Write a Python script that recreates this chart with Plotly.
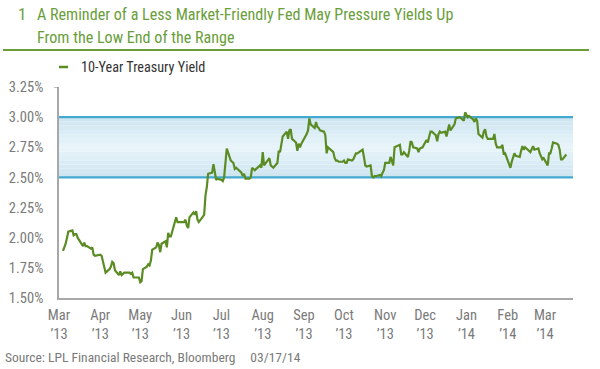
import plotly.graph_objects as go

dates = [
    "2013-03-04","2013-03-05","2013-03-06","2013-03-07","2013-03-08","2013-03-11","2013-03-12","2013-03-13","2013-03-14","2013-03-15",
    "2013-03-18","2013-03-19","2013-03-20","2013-03-21","2013-03-22","2013-03-25","2013-03-26","2013-03-27","2013-03-28",
    "2013-04-01","2013-04-02","2013-04-03","2013-04-04","2013-04-05","2013-04-08","2013-04-09","2013-04-10","2013-04-11","2013-04-12",
    "2013-04-15","2013-04-16","2013-04-17","2013-04-18","2013-04-19","2013-04-22","2013-04-23","2013-04-24","2013-04-25","2013-04-26",
    "2013-04-29","2013-04-30",
    "2013-05-01","2013-05-02","2013-05-03","2013-05-06","2013-05-07","2013-05-08","2013-05-09","2013-05-10","2013-05-13","2013-05-14",
    "2013-05-15","2013-05-16","2013-05-17","2013-05-20","2013-05-21","2013-05-22","2013-05-23","2013-05-24","2013-05-28","2013-05-29",
    "2013-05-30","2013-05-31",
    "2013-06-03","2013-06-04","2013-06-05","2013-06-06","2013-06-07","2013-06-10","2013-06-11","2013-06-12","2013-06-13","2013-06-14",
    "2013-06-17","2013-06-18","2013-06-19","2013-06-20","2013-06-21","2013-06-24","2013-06-25","2013-06-26","2013-06-27","2013-06-28",
    "2013-07-01","2013-07-02","2013-07-03","2013-07-05","2013-07-08","2013-07-09","2013-07-10","2013-07-11","2013-07-12","2013-07-15",
    "2013-07-16","2013-07-17","2013-07-18","2013-07-19","2013-07-22","2013-07-23","2013-07-24","2013-07-25","2013-07-26","2013-07-29",
    "2013-07-30","2013-07-31",
    "2013-08-01","2013-08-02","2013-08-05","2013-08-06","2013-08-07","2013-08-08","2013-08-09","2013-08-12","2013-08-13","2013-08-14",
    "2013-08-15","2013-08-16","2013-08-19","2013-08-20","2013-08-21","2013-08-22","2013-08-23","2013-08-26","2013-08-27","2013-08-28",
    "2013-08-29","2013-08-30",
    "2013-09-03","2013-09-04","2013-09-05","2013-09-06","2013-09-09","2013-09-10","2013-09-11","2013-09-12","2013-09-13","2013-09-16",
    "2013-09-17","2013-09-18","2013-09-19","2013-09-20","2013-09-23","2013-09-24","2013-09-25","2013-09-26","2013-09-27","2013-09-30",
    "2013-10-01","2013-10-02","2013-10-03","2013-10-04","2013-10-07","2013-10-08","2013-10-09","2013-10-10","2013-10-11","2013-10-15",
    "2013-10-16","2013-10-17","2013-10-18","2013-10-21","2013-10-22","2013-10-23","2013-10-24","2013-10-25","2013-10-28","2013-10-29",
    "2013-10-30","2013-10-31",
    "2013-11-01","2013-11-04","2013-11-05","2013-11-06","2013-11-07","2013-11-08","2013-11-12","2013-11-13","2013-11-14","2013-11-15",
    "2013-11-18","2013-11-19","2013-11-20","2013-11-21","2013-11-22","2013-11-25","2013-11-26","2013-11-27","2013-11-29",
    "2013-12-02","2013-12-03","2013-12-04","2013-12-05","2013-12-06","2013-12-09","2013-12-10","2013-12-11","2013-12-12","2013-12-13",
    "2013-12-16","2013-12-17","2013-12-18","2013-12-19","2013-12-20","2013-12-23","2013-12-24","2013-12-26","2013-12-27","2013-12-30",
    "2013-12-31",
    "2014-01-02","2014-01-03","2014-01-06","2014-01-07","2014-01-08","2014-01-09","2014-01-10","2014-01-13","2014-01-14","2014-01-15",
    "2014-01-16","2014-01-17","2014-01-21","2014-01-22","2014-01-23","2014-01-24","2014-01-27","2014-01-28","2014-01-29","2014-01-30",
    "2014-01-31",
    "2014-02-03","2014-02-04","2014-02-05","2014-02-06","2014-02-07","2014-02-10","2014-02-11","2014-02-12","2014-02-13","2014-02-14",
    "2014-02-18","2014-02-19","2014-02-20","2014-02-21","2014-02-24","2014-02-25","2014-02-26","2014-02-27","2014-02-28",
    "2014-03-03","2014-03-04","2014-03-05","2014-03-06","2014-03-07","2014-03-10","2014-03-11","2014-03-12","2014-03-13","2014-03-14",
    "2014-03-17",
]

yields = [
    1.89,1.92,1.95,2.00,2.05,2.06,2.02,2.03,2.03,2.00,
    1.95,1.93,1.96,1.93,1.93,1.91,1.92,1.86,1.85,
    1.86,1.85,1.80,1.76,1.71,1.74,1.76,1.80,1.79,1.73,
    1.69,1.72,1.69,1.70,1.71,1.71,1.71,1.70,1.71,1.67,
    1.67,1.67,
    1.63,1.64,1.74,1.76,1.78,1.77,1.81,1.90,1.92,1.96,
    1.94,1.88,1.95,1.97,1.92,2.04,2.01,2.01,2.17,2.13,
    2.13,2.13,
    2.13,2.15,2.10,2.08,2.17,2.21,2.19,2.22,2.15,2.13,
    2.18,2.19,2.35,2.42,2.53,2.54,2.61,2.54,2.48,2.49,
    2.48,2.47,2.50,2.74,2.64,2.63,2.62,2.57,2.58,2.55,
    2.54,2.51,2.53,2.49,2.49,2.50,2.58,2.57,2.56,2.59,
    2.60,2.58,
    2.71,2.60,2.64,2.66,2.60,2.59,2.58,2.62,2.72,2.71,
    2.77,2.84,2.88,2.82,2.89,2.90,2.82,2.79,2.72,2.78,
    2.75,2.78,
    2.86,2.89,2.99,2.94,2.91,2.96,2.92,2.91,2.89,2.88,
    2.85,2.70,2.75,2.74,2.71,2.66,2.64,2.64,2.63,2.63,
    2.64,2.62,2.62,2.65,2.64,2.65,2.68,2.70,2.70,2.73,
    2.67,2.60,2.59,2.60,2.51,2.50,2.51,2.51,2.52,2.51,
    2.54,2.56,
    2.62,2.62,2.67,2.64,2.60,2.75,2.77,2.69,2.69,2.71,
    2.67,2.72,2.80,2.79,2.75,2.74,2.71,2.74,2.75,
    2.81,2.79,2.84,2.88,2.88,2.85,2.80,2.86,2.88,2.87,
    2.88,2.84,2.89,2.94,2.89,2.94,2.99,3.00,3.00,2.97,
    3.04,
    3.00,3.01,2.98,2.96,2.99,2.97,2.86,2.83,2.88,2.90,
    2.84,2.82,2.82,2.86,2.78,2.75,2.75,2.77,2.69,2.70,
    2.67,
    2.58,2.63,2.67,2.70,2.68,2.67,2.72,2.76,2.73,2.75,
    2.71,2.73,2.76,2.73,2.74,2.70,2.67,2.65,2.66,
    2.60,2.70,2.70,2.74,2.79,2.78,2.77,2.73,2.65,2.65,
    2.69,
]

tick_dates = ["2013-03-01","2013-04-01","2013-05-01","2013-06-01","2013-07-01","2013-08-01","2013-09-01",
              "2013-10-01","2013-11-01","2013-12-01","2014-01-01","2014-02-01","2014-03-01"]
tick_labels = ["Mar<br>’13","Apr<br>’13","May<br>’13","Jun<br>’13","Jul<br>’13","Aug<br>’13","Sep<br>’13",
               "Oct<br>’13","Nov<br>’13","Dec<br>’13","Jan<br>’14","Feb<br>’14","Mar<br>’14"]
y_ticks = [1.50, 1.75, 2.00, 2.25, 2.50, 2.75, 3.00, 3.25]
y_tick_labels = ["1.50%","1.75%","2.00%","2.25%","2.50%","2.75%","3.00%","3.25%"]
range_low, range_high = 2.50, 3.00

series_name = "10-Year Treasury Yield"
title_line1 = "A Reminder of a Less Market-Friendly Fed May Pressure Yields Up"
title_line2 = "From the Low End of the Range"
source_text = "Source: LPL Financial Research, Bloomberg\u2003 03/17/14"

FONT = "Roboto Condensed, DejaVu Sans Condensed, sans-serif"
GREEN_LINE = "#5B8C24"
GREEN_TITLE = "#6A9E3A"
BLUE = "#43A9D1"
GRAY = "#7A7A7A"

W, H = 600, 369
L, R, T, B = 59, 27, 87, 71
PW, PH = W - L - R, H - T - B

def px(xp):
    return (xp - L) / PW

def py(yp):
    return (H - B - yp) / PH

fig = go.Figure()
fig.add_trace(go.Scatter(x=dates, y=yields, mode="lines", name=series_name,
                         line=dict(color=GREEN_LINE, width=2.2), showlegend=False))

shapes = []
n = 14
edge = (205, 229, 240)
mid = (232, 244, 250)
for i in range(n):
    t = abs((i + 0.5) / n - 0.5) * 2
    c = tuple(int(round(mid[k] + (edge[k] - mid[k]) * t)) for k in range(3))
    y0 = range_low + (range_high - range_low) * i / n
    y1 = range_low + (range_high - range_low) * (i + 1) / n
    shapes.append(dict(type="rect", xref="paper", yref="y", x0=0, x1=1, y0=y0, y1=y1,
                       fillcolor="rgb(%d,%d,%d)" % c, line=dict(width=0), layer="below"))
for yv in (range_low, range_high):
    shapes.append(dict(type="line", xref="paper", yref="y", x0=0, x1=1, y0=yv, y1=yv,
                       line=dict(color=BLUE, width=2.2), layer="below"))
shapes.append(dict(type="line", xref="paper", yref="y", x0=px(54), x1=0, y0=3.25, y1=3.25,
                   line=dict(color="#9A9A9A", width=1.3)))
shapes.append(dict(type="line", xref="paper", yref="paper", x0=px(3), x1=px(589), y0=py(50), y1=py(50),
                   line=dict(color=GREEN_TITLE, width=2)))
shapes.append(dict(type="line", xref="paper", yref="paper", x0=px(59), x1=px(68), y0=py(67), y1=py(67),
                   line=dict(color=GREEN_LINE, width=2.5)))

annotations = [
    dict(text="1", xref="paper", yref="paper", x=px(16), y=py(14), xanchor="left", yanchor="middle",
         showarrow=False, font=dict(family=FONT, size=17, color=GREEN_TITLE)),
    dict(text=title_line1, xref="paper", yref="paper", x=px(35), y=py(14), xanchor="left", yanchor="middle",
         showarrow=False, font=dict(family=FONT, size=16.1, color=GREEN_TITLE)),
    dict(text=title_line2, xref="paper", yref="paper", x=px(35), y=py(37), xanchor="left", yanchor="middle",
         showarrow=False, font=dict(family=FONT, size=16.1, color=GREEN_TITLE)),
    dict(text=series_name, xref="paper", yref="paper", x=px(79), y=py(67), xanchor="left", yanchor="middle",
         showarrow=False, font=dict(family=FONT, size=14.2, color="#333333")),
    dict(text=source_text, xref="paper", yref="paper", x=px(3), y=py(357), xanchor="left", yanchor="middle",
         showarrow=False, font=dict(family=FONT, size=13.5, color=GRAY)),
]

fig.update_layout(
    width=W, height=H,
    margin=dict(l=L, r=R, t=T, b=B, pad=0, autoexpand=False),
    paper_bgcolor="white", plot_bgcolor="white",
    font=dict(family=FONT, size=14, color=GRAY),
    shapes=shapes, annotations=annotations,
    xaxis=dict(type="date", range=["2013-03-01", "2014-03-22"], tickvals=tick_dates, ticktext=tick_labels,
               showgrid=False, zeroline=False, showline=True, linecolor="#A8A8A8", linewidth=1.5,
               ticks="", ticklabelstandoff=3, automargin=False, tickfont=dict(family=FONT, size=14.5, color=GRAY)),
    yaxis=dict(range=[1.50, 3.25], tickvals=y_ticks, ticktext=y_tick_labels, showgrid=False, zeroline=False,
               showline=True, linecolor="#A8A8A8", linewidth=1.5, ticks="", ticklabelstandoff=11,
               automargin=False, tickfont=dict(family=FONT, size=14.5, color=GRAY)),
)

fig.write_html("out.html", config={"displayModeBar": False},
               post_script="document.body.style.margin='0';document.body.style.overflow='hidden';")
